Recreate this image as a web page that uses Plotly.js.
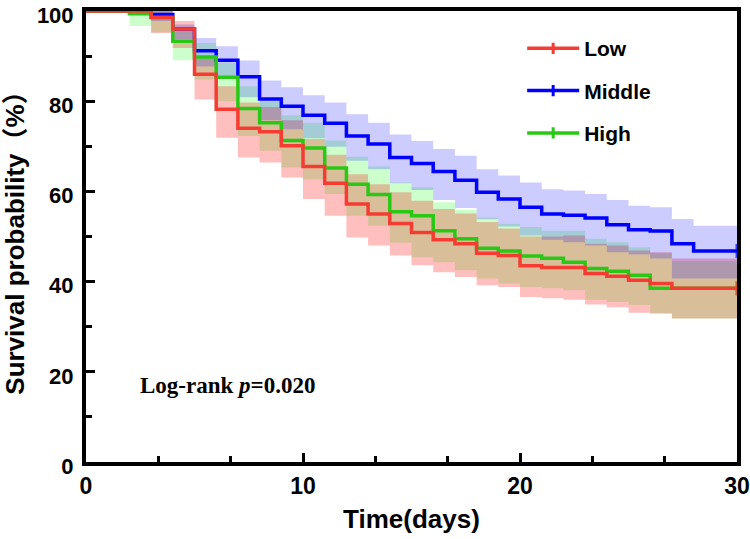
<!DOCTYPE html>
<html>
<head>
<meta charset="utf-8">
<script src="https://cdn.plot.ly/plotly-3.0.1.min.js"></script>
<style>html,body{margin:0;padding:0;background:#fff;}#chart{width:750px;height:539px;}</style>
</head>
<body>
<div id="chart"></div>
<script>
// Day grid (start of each interval) and values per interval [d, d+1)
const days = [0,1,2,3,4,5,6,7,8,9,10,11,12,13,14,15,16,17,18,19,20,21,22,23,24,25,26,27,28,29,30];

const lowSurv  = [100,100,100,98.6,96.0,86.0,78.2,74.0,73.2,70.1,65.5,61.8,57.2,55.0,52.9,50.9,49.3,48.4,46.3,45.8,43.5,43.1,43.1,41.8,41.2,40.3,39.6,38.5,38.5,38.5];
const lowUpper = [100,100,100,100,97.8,89.4,83.3,79.7,78.7,75.8,71.6,68.1,63.8,61.6,59.8,57.9,56.1,55.1,53.2,51.8,50.0,50.0,50.2,48.4,48.0,46.9,46.5,45.1,45.1,45.1];
const lowLower = [100,100,100,95.1,91.8,80.4,71.9,67.5,66.4,63.1,58.3,54.6,49.8,48.0,45.8,43.6,42.1,41.0,39.2,38.8,36.6,36.3,36.0,34.9,34.3,33.1,32.9,31.8,31.8,31.8];

const midSurv  = [100,100,100,99.2,96.0,91.2,89.1,85.4,80.5,78.9,76.9,75.1,72.3,70.5,67.5,66.2,64.4,62.5,59.8,58.3,56.5,55.0,54.7,54.1,52.6,51.5,51.2,48.4,46.8,46.8];
const midUpper = [100,100,100,100,97.0,94.0,92.2,89.0,84.6,83.1,81.3,79.7,77.1,75.2,72.6,71.2,69.4,67.9,64.9,63.5,62.0,60.5,60.2,59.4,58.1,56.8,56.5,53.9,52.4,52.4];
const midLower = [100,100,100,97.8,93.8,87.7,85.5,80.9,75.8,73.8,71.8,69.9,66.8,64.9,61.8,60.3,58.1,56.3,53.8,52.2,50.2,49.3,48.7,48.0,46.5,46.0,45.1,40.7,40.7,40.7];

const highSurv  = [100,100,99.4,98.5,93.3,89.8,85.3,78.4,75.2,71.3,69.6,65.2,61.6,59.3,55.5,54.6,51.3,49.5,47.4,46.8,45.7,45.2,44.3,42.9,42.3,41.4,38.5,38.5,38.5,38.5];
const highUpper = [100,100,100,100,95.6,92.9,88.5,83.3,80.0,76.9,75.2,71.3,67.7,65.5,62.0,60.9,57.6,55.9,54.2,52.8,52.1,51.3,51.3,49.5,48.7,47.6,46.3,44.5,44.5,44.5];
const highLower = [100,100,96.7,95.3,89.1,84.8,80.0,72.3,69.0,65.3,62.7,59.4,54.6,52.4,48.6,45.4,44.3,42.5,40.7,39.6,38.8,38.5,38.1,36.0,35.5,34.8,32.9,31.8,31.8,31.8];

const groupNames = ["Low", "Middle", "High"];
const xTickVals = [0, 10, 20, 30];
const yTickVals = [0, 20, 40, 60, 80, 100];
const pText = "Log-rank <i>p</i>=0.020";

// ---- styling ----
const COL = {
  Low:    {line: "rgb(245,60,50)",  fill: "rgba(255,0,0,0.25)"},
  Middle: {line: "rgb(0,0,255)",    fill: "rgba(0,0,255,0.2)"},
  High:   {line: "rgb(40,200,20)",  fill: "rgba(0,255,0,0.2)"}
};
const series = {
  Low:    {s: lowSurv,  u: lowUpper,  l: lowLower},
  Middle: {s: midSurv,  u: midUpper,  l: midLower},
  High:   {s: highSurv, u: highUpper, l: highLower}
};
function ext(a){ return a.concat([a[a.length-1]]); }

const traces = [];
// bands
["High","Low","Middle"].forEach(k => {
  const d = series[k];
  traces.push({x: days, y: ext(d.u), type: "scatter", mode: "lines",
    line: {shape: "hv", width: 0, color: COL[k].fill}, showlegend: false, hoverinfo: "skip"});
  traces.push({x: days, y: ext(d.l), type: "scatter", mode: "lines", fill: "tonexty",
    fillcolor: COL[k].fill, line: {shape: "hv", width: 0, color: COL[k].fill},
    showlegend: false, hoverinfo: "skip"});
});
// survival lines
["Middle","High","Low"].forEach(k => {
  const y = ext(series[k].s);
  const sizes = y.map((v, i) => i === y.length - 1 ? 10 : 0);
  traces.push({x: days, y: y, type: "scatter", mode: "lines+markers",
    line: {shape: "hv", width: 3.5, color: COL[k].line},
    marker: {symbol: "line-ns-open", size: sizes, line: {width: 3, color: COL[k].line}, color: COL[k].line},
    showlegend: false, cliponaxis: false});
});
// legend entries
groupNames.forEach(k => {
  traces.push({x: [null], y: [null], type: "scatter", mode: "lines+markers", name: k,
    legendgroup: k, line: {width: 3.5, color: COL[k].line},
    marker: {symbol: "line-ns-open", size: 8, line: {width: 3, color: COL[k].line}}});
});

const FONT = "Arial, Liberation Sans, Noto Sans CJK SC, sans-serif";
const layout = {
  width: 750, height: 539,
  margin: {l: 86, r: 13, t: 11, b: 77, pad: 0},
  paper_bgcolor: "#fff", plot_bgcolor: "#fff",
  showlegend: true,
  legend: {x: 0.67, y: 0.962, xanchor: "left", yanchor: "top",
    font: {family: FONT, size: 21, color: "#000", weight: "bold"},
    bgcolor: "rgba(0,0,0,0)", tracegroupgap: 12, itemwidth: 52, traceorder: "grouped"},
  xaxis: {range: [0, 30], tickvals: xTickVals, ticktext: xTickVals.map(String),
    showgrid: false, zeroline: false, showline: true, linecolor: "#000", linewidth: 4, mirror: true,
    ticks: "inside", ticklen: 9, tickwidth: 3, tickcolor: "#000",
    minor: {dtick: 10/3, ticks: "inside", ticklen: 6, tickwidth: 3, tickcolor: "#000"},
    tickfont: {family: FONT, size: 23, color: "#000", weight: "bold"},
    ticklabelstandoff: 0, ticklabeloverflow: "allow",
    title: {text: "Time(days)", font: {family: FONT, size: 26, color: "#000", weight: "bold"}, standoff: 13}},
  yaxis: {range: [0, 100], tickvals: yTickVals, ticktext: yTickVals.map(String),
    showgrid: false, zeroline: false, showline: true, linecolor: "#000", linewidth: 4, mirror: true,
    ticks: "inside", ticklen: 9, tickwidth: 3, tickcolor: "#000",
    minor: {dtick: 10, ticks: "inside", ticklen: 6, tickwidth: 3, tickcolor: "#000"},
    tickfont: {family: FONT, size: 22, color: "#000", weight: "bold"},
    ticklabelstandoff: 4, ticklabelshift: 4, ticklabeloverflow: "allow",
    title: {text: "Survival probability（%）", font: {family: FONT, size: 26, color: "#000", weight: "bold"}, standoff: 11}},
  annotations: [{text: "<b>" + pText + "</b>", xref: "paper", yref: "paper", x: 0.217, y: 0.17,
    xanchor: "center", yanchor: "middle", showarrow: false,
    font: {family: "Times New Roman, Liberation Serif, serif", size: 23, color: "#000"}}]
};
Plotly.newPlot("chart", traces, layout, {staticPlot: true, displayModeBar: false});
</script>
</body>
</html>
